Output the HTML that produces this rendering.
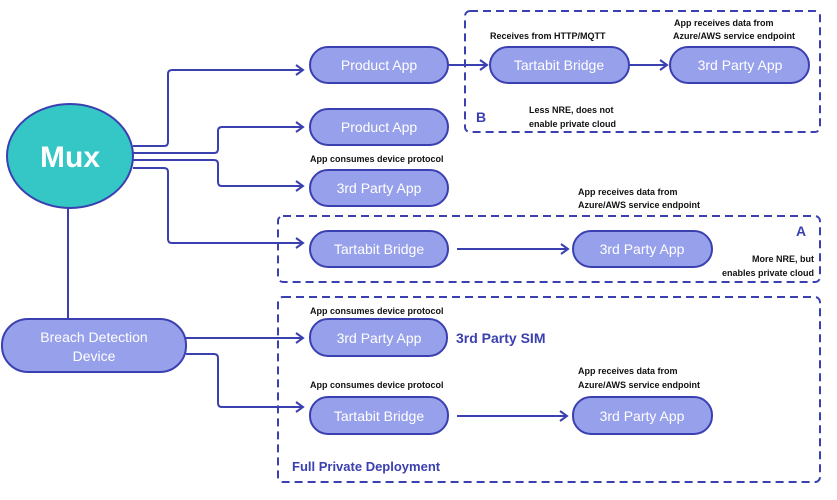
<!DOCTYPE html>
<html><head><style>
body{margin:0;background:#fff}
svg{display:block}
text{font-family:"Liberation Sans",sans-serif}
.p{fill:#97a0ea;stroke:#3b40b0;stroke-width:2}
.t{fill:#fff;font-size:14px;text-anchor:middle}
.l{font-size:9px;fill:#111;font-weight:bold}
.c{fill:none;stroke:#3b40b0;stroke-width:2}
.d{fill:none;stroke:#3b40b0;stroke-width:2;stroke-dasharray:8,5}
.a{fill:none;stroke:#3b40b0;stroke-width:2}
.b{fill:#3b40b0;font-weight:bold}
</style></head><body>
<svg width="837" height="500" viewBox="0 0 837 500">
<defs><marker id="m" markerWidth="10" markerHeight="12" refX="8" refY="6" orient="auto" markerUnits="userSpaceOnUse"><path d="M1,1 L8,6 L1,11" class="a"/></marker></defs>
<rect x="465" y="11" width="355" height="121" rx="5" class="d"/>
<rect x="278" y="216" width="542" height="66" rx="5" class="d"/>
<rect x="278" y="297" width="542" height="185" rx="5" class="d"/>
<path d="M133,146 H164 Q168,146 168,142 V74 Q168,70 172,70 H303" class="c" marker-end="url(#m)"/>
<path d="M133,153 H214 Q218,153 218,149 V131 Q218,127 222,127 H303" class="c" marker-end="url(#m)"/>
<path d="M133,160 H214 Q218,160 218,164 V182 Q218,186 222,186 H303" class="c" marker-end="url(#m)"/>
<path d="M133,168 H164 Q168,168 168,172 V239 Q168,243 172,243 H303" class="c" marker-end="url(#m)"/>
<path d="M68,205 V319" class="c"/>
<path d="M186,338 H303" class="c" marker-end="url(#m)"/>
<path d="M186,354 H214 Q218,354 218,358 V403 Q218,407 222,407 H303" class="c" marker-end="url(#m)"/>
<path d="M448,65 H487" class="c" marker-end="url(#m)"/>
<path d="M629,65 H667" class="c" marker-end="url(#m)"/>
<path d="M457,249 H568" class="c" marker-end="url(#m)"/>
<path d="M457,416 H567" class="c" marker-end="url(#m)"/>
<ellipse cx="70" cy="156" rx="63" ry="52" fill="#35c6c6" stroke="#3b40b0" stroke-width="2"/>
<text x="70" y="167" fill="#fff" font-size="30" font-weight="bold" text-anchor="middle">Mux</text>
<rect x="2" y="319" width="184" height="53" rx="26" class="p"/>
<text x="94" y="342" class="t">Breach Detection</text>
<text x="94" y="361" class="t">Device</text>
<rect x="310" y="47" width="138" height="36" rx="18" class="p"/><text x="379" y="70" class="t">Product App</text>
<rect x="310" y="109" width="138" height="36" rx="18" class="p"/><text x="379" y="132" class="t">Product App</text>
<rect x="310" y="170" width="138" height="36" rx="18" class="p"/><text x="379" y="193" class="t">3rd Party App</text>
<rect x="310" y="231" width="138" height="36" rx="18" class="p"/><text x="379" y="254" class="t">Tartabit Bridge</text>
<rect x="490" y="47" width="139" height="36" rx="18" class="p"/><text x="559" y="70" class="t">Tartabit Bridge</text>
<rect x="670" y="47" width="139" height="36" rx="18" class="p"/><text x="740" y="70" class="t">3rd Party App</text>
<rect x="573" y="231" width="139" height="36" rx="18" class="p"/><text x="642" y="254" class="t">3rd Party App</text>
<rect x="310" y="319" width="137" height="37" rx="18" class="p"/><text x="379" y="343" class="t">3rd Party App</text>
<rect x="310" y="397" width="138" height="37" rx="18" class="p"/><text x="379" y="421" class="t">Tartabit Bridge</text>
<rect x="573" y="397" width="139" height="37" rx="18" class="p"/><text x="642" y="421" class="t">3rd Party App</text>
<text x="490" y="39" class="l">Receives from HTTP/MQTT</text>
<text x="674" y="26" class="l">App receives data from</text>
<text x="673" y="39" class="l">Azure/AWS service endpoint</text>
<text x="529" y="113" class="l">Less NRE, does not</text>
<text x="529" y="127" class="l">enable private cloud</text>
<text x="476" y="122" font-size="14" class="b">B</text>
<text x="310" y="162" class="l">App consumes device protocol</text>
<text x="578" y="195" class="l">App receives data from</text>
<text x="578" y="208" class="l">Azure/AWS service endpoint</text>
<text x="796" y="236" font-size="14" class="b">A</text>
<text x="814" y="262" class="l" text-anchor="end">More NRE, but</text>
<text x="814" y="276" class="l" text-anchor="end">enables private cloud</text>
<text x="310" y="314" class="l">App consumes device protocol</text>
<text x="456" y="343" font-size="14" class="b">3rd Party SIM</text>
<text x="310" y="388" class="l">App consumes device protocol</text>
<text x="578" y="374" class="l">App receives data from</text>
<text x="578" y="388" class="l">Azure/AWS service endpoint</text>
<text x="292" y="471" font-size="13" class="b">Full Private Deployment</text>
</svg>
</body></html>
